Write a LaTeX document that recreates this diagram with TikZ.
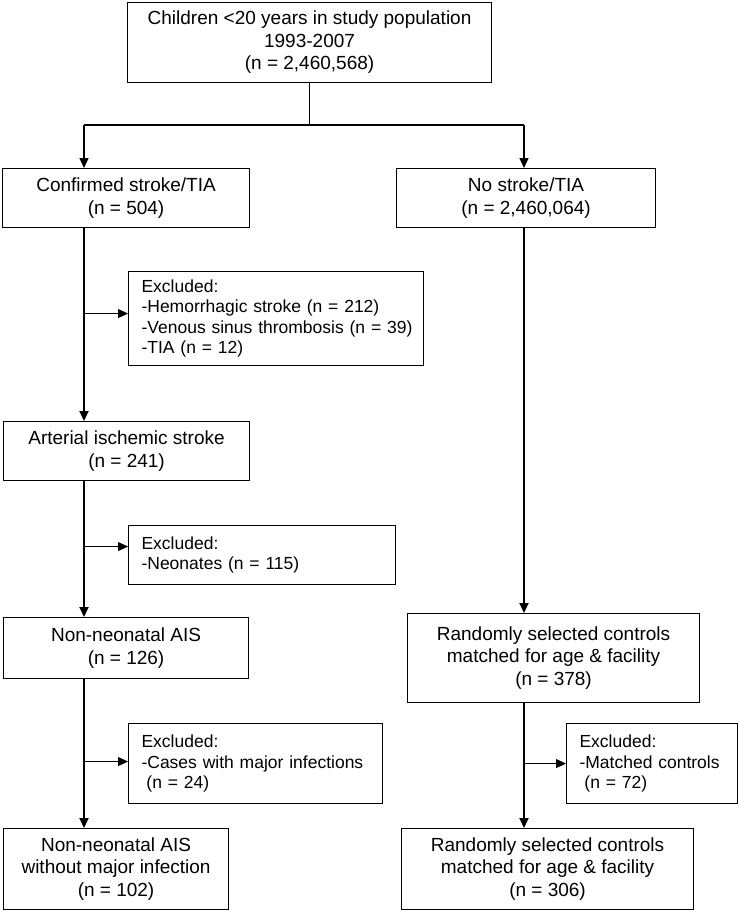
\documentclass[tikz,border=0pt]{standalone}
\usepackage{fontspec}
\setmainfont{Liberation Sans}
\usetikzlibrary{arrows.meta}
\begin{document}
\begin{tikzpicture}[x=1pt,y=-1pt,
  box/.style={draw=black,line width=1.1pt,inner sep=0pt,align=center,anchor=north west,
              font=\fontsize{19}{22.5}\selectfont},
  exbox/.style={draw=black,line width=1.1pt,inner xsep=13pt,inner ysep=0pt,align=left,anchor=north west,
              font=\fontsize{17.5}{20.5}\selectfont},
  tip/.tip={Triangle[length=10pt,width=9pt]},
  mainline/.style={line width=1.8pt,-tip},
  topline/.style={line width=1.2pt},
  toparrow/.style={line width=1.3pt,-tip},
  branch/.style={line width=1pt,-tip}]
\useasboundingbox (0,0) rectangle (739,911);

% boxes
\node[box,minimum width=364pt,minimum height=80pt] (top) at (127,2)
  {Children <20 years in study population\\1993-2007\\(n = 2,460,568)};
\node[box,minimum width=247pt,minimum height=59pt] (conf) at (2,168)
  {Confirmed stroke/TIA\\(n = 504)};
\node[box,minimum width=259pt,minimum height=59pt] (nost) at (396,168)
  {No stroke/TIA\\(n = 2,460,064)};
\node[exbox,text width=269pt,minimum height=94pt] (ex1) at (128,271)
  {Excluded:\\\mbox{-Hemorrhagic stroke (n = 212)}\\\mbox{-Venous sinus thrombosis (n = 39)}\\-TIA (n = 12)};
\node[box,minimum width=246pt,minimum height=59pt] (ais) at (3,421)
  {Arterial ischemic stroke\\(n = 241)};
\node[exbox,text width=241pt,minimum height=59pt] (ex2) at (128,525)
  {Excluded:\\-Neonates (n = 115)};
\node[box,minimum width=245pt,minimum height=61pt] (nnais) at (3,617)
  {Non-neonatal AIS\\(n = 126)};
\node[exbox,text width=228pt,minimum height=80pt] (ex3) at (128,723)
  {Excluded:\\\mbox{-Cases with major infections}\\\hspace*{0.28em}(n = 24)};
\node[box,minimum width=225pt,minimum height=81pt] (final) at (3,828)
  {Non-neonatal AIS\\without major infection\\(n = 102)};
\node[box,minimum width=292pt,minimum height=89pt] (rand) at (407,613)
  {Randomly selected controls\\matched for age \& facility\\(n = 378)};
\node[exbox,text width=145pt,minimum height=80pt] (exR) at (566,723)
  {Excluded:\\\mbox{-Matched controls}\\\hspace*{0.28em}(n = 72)};
\node[box,minimum width=292pt,minimum height=81pt] (rfinal) at (401,828)
  {Randomly selected controls\\matched for age \& facility\\(n = 306)};

% reference coordinates
\coordinate (lx) at (84,0);
\coordinate (rx) at (524,0);
\coordinate (jl) at (84,125);
\coordinate (jr) at (524,125);

% top split
\draw[topline] (top.south) -- (top.south |- jl);
\draw[topline] (jl) -- (jr);
\draw[toparrow] (jl) -- (jl |- conf.north);
\draw[toparrow] (jr) -- (jr |- nost.north);

% left column
\draw[mainline] (conf.south -| lx) -- (ais.north -| lx);
\draw[mainline] (ais.south -| lx) -- (nnais.north -| lx);
\draw[mainline] (nnais.south -| lx) -- (final.north -| lx);
\draw[branch] ([yshift=5pt]ex1.west -| lx) -- ([yshift=5pt]ex1.west);
\draw[branch] ([yshift=8.5pt]ex2.west -| lx) -- ([yshift=8.5pt]ex2.west);
\draw[branch] ([yshift=2pt]ex3.west -| lx) -- ([yshift=2pt]ex3.west);

% right column
\draw[mainline] (nost.south -| rx) -- (rand.north -| rx);
\draw[mainline] (rand.south -| rx) -- (rfinal.north -| rx);
\draw[branch] (exR.west -| rx) -- (exR.west);
\end{tikzpicture}
\end{document}
